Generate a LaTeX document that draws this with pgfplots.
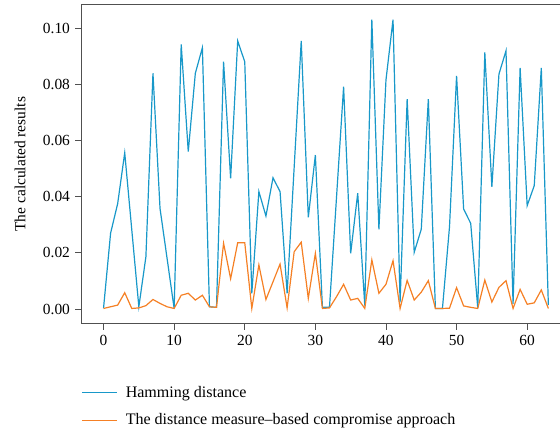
\documentclass[border=0pt]{standalone}
\usepackage{fontspec}
\setmainfont{Liberation Serif}
\usepackage{pgfplots}
\pgfplotsset{compat=1.18}
\definecolor{hamblue}{RGB}{24,152,201}
\definecolor{comporange}{RGB}{245,128,37}
\definecolor{framegray}{RGB}{80,80,80}

\begin{document}
\fontsize{15.5}{18}\selectfont
\begin{tikzpicture}
\useasboundingbox (-81.3bp,-106.5bp) rectangle (478.7bp,323.5bp);
\begin{axis}[
  at={(0,0)}, anchor=south west,
  scale only axis,
  width=489.3bp, height=318.5bp,
  xmin=-3.15, xmax=66.15,
  ymin=-0.00515, ymax=0.1082,
  xtick={0,10,20,30,40,50,60},
  ytick={0,0.02,0.04,0.06,0.08,0.10},
  xtick pos=bottom, ytick pos=left,
  tick align=outside,
  major tick length=6bp,
  tick style={framegray, line width=0.9bp},
  axis line style={framegray, line width=1bp},
  /pgf/number format/assume math mode=true,
  yticklabel style={/pgf/number format/.cd, fixed, fixed zerofill, precision=2},
  xticklabel style={/pgf/number format/.cd, fixed},
  scaled y ticks=false,
  tick label style={font=\fontsize{15.5}{18}\selectfont},
  ylabel={The calculated results},
  ylabel style={font=\fontsize{15.5}{18}\selectfont, at={(axis description cs:-0.125,0.5)}, anchor=center},
  legend cell align=left,
  legend style={
    at={(axis description cs:-0.006,-0.183)}, anchor=north west,
    draw=none, fill=none,
    font=\fontsize{16.1}{18}\selectfont,
    row sep=10bp,
    nodes={inner sep=2bp},
  },
  legend image code/.code={%
    \draw[#1] (0bp,0bp) -- (35bp,0bp);
    \path (41bp,0bp);},
]
\addplot[hamblue, line width=1.2bp] coordinates {
(0,0.0003) (1,0.0270) (2,0.0375) (3,0.0556) (4,0.0282) (5,0.0008) (6,0.0186) (7,0.0839)
(8,0.0358) (9,0.0180) (10,0.0002) (11,0.0942) (12,0.0560) (13,0.0839) (14,0.0930) (15,0.0008)
(16,0.0006) (17,0.0880) (18,0.0465) (19,0.0954) (20,0.0880) (21,0.0056) (22,0.0418) (23,0.0331)
(24,0.0467) (25,0.0418) (26,0.0056) (27,0.0505) (28,0.0954) (29,0.0326) (30,0.0548) (31,0.0006)
(32,0.0006) (33,0.0399) (34,0.0791) (35,0.0198) (36,0.0412) (37,0.0012) (38,0.1030) (39,0.0284)
(40,0.0815) (41,0.1030) (42,0.0024) (43,0.0747) (44,0.0202) (45,0.0284) (46,0.0747) (47,0.0002)
(48,0.0002) (49,0.0293) (50,0.0830) (51,0.0356) (52,0.0305) (53,0.0004) (54,0.0913) (55,0.0435)
(56,0.0836) (57,0.0919) (58,0.0018) (59,0.0858) (60,0.0368) (61,0.0439) (62,0.0858) (63,0.0014)
};
\addlegendentry{Hamming distance}
\addplot[comporange, line width=1.2bp] coordinates {
(0,0.0002) (1,0.0008) (2,0.0014) (3,0.0058) (4,0.0002) (5,0.0004) (6,0.0012) (7,0.0034)
(8,0.0020) (9,0.0008) (10,0.0002) (11,0.0049) (12,0.0056) (13,0.0032) (14,0.0049) (15,0.0008)
(16,0.0006) (17,0.0234) (18,0.0108) (19,0.0236) (20,0.0236) (21,0.0002) (22,0.0157) (23,0.0034)
(24,0.0097) (25,0.0160) (26,0.0004) (27,0.0204) (28,0.0238) (29,0.0038) (30,0.0198) (31,0.0002)
(32,0.0004) (33,0.0044) (34,0.0088) (35,0.0032) (36,0.0038) (37,0.0002) (38,0.0175) (39,0.0056)
(40,0.0088) (41,0.0172) (42,0.0002) (43,0.0102) (44,0.0032) (45,0.0060) (46,0.0101) (47,0.0002)
(48,0.0002) (49,0.0003) (50,0.0076) (51,0.0011) (52,0.0006) (53,0.0002) (54,0.0103) (55,0.0025)
(56,0.0077) (57,0.0101) (58,0.0002) (59,0.0070) (60,0.0017) (61,0.0022) (62,0.0068) (63,0.0002)
};
\addlegendentry{The distance measure--based compromise approach}
\end{axis}
\end{tikzpicture}
\end{document}
